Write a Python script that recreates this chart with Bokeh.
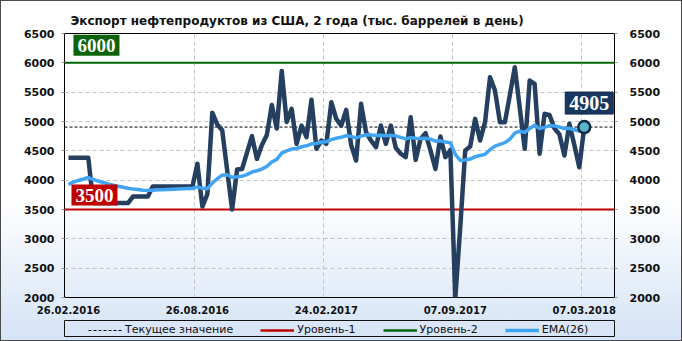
from bokeh.plotting import figure
from bokeh.layouts import column
from bokeh.models import (Range1d, LinearAxis, FixedTicker, Label, Legend, LegendItem,
                          InlineStyleSheet)
from bokeh.embed import file_html
from bokeh.resources import INLINE

title_text = "Экспорт нефтепродуктов из США, 2 года (тыс. баррелей в день)"
tick_dates = ["26.02.2016", "26.08.2016", "24.02.2017", "07.09.2017", "07.03.2018"]
tick_index = [0, 26, 52, 78, 104]
y_ticks = [2000, 2500, 3000, 3500, 4000, 4500, 5000, 5500, 6000, 6500]
legend_labels = ["Текущее значение", "Уровень-1", "Уровень-2", "EMA(26)"]

exports = [
    4380, 4380, 4380, 4380, 4380, 3610, 3610, 3610, 3610, 3610,
    3610, 3610, 3610, 3720, 3720, 3720, 3720, 3890, 3890, 3890,
    3890, 3890, 3890, 3890, 3890, 3890, 4280, 3550, 3760, 5150,
    4950, 4850, 4170, 3500, 4180, 4190, 4470, 4750, 4360, 4600,
    4770, 5280, 4880, 5860, 4990, 5216, 4619, 4931, 4732, 5370,
    4534, 4676, 4619, 5329, 5045, 4931, 5199, 4600, 4335, 5301,
    4817, 4676, 4562, 4931, 4619, 4931, 4550, 4450, 4392, 5073,
    4346, 4704, 4800, 4505, 4193, 4744, 4392, 4516, 2000, 3200,
    4505, 4573, 5045, 4676, 4988, 5755, 5528, 4988, 4988, 5450,
    5926, 5230, 4534, 5699, 5642, 4449, 5131, 5110, 4880, 4780,
    4420, 4960, 4600, 4221, 4905,
]
ema26 = [
    3930, 3965, 3995, 4020, 4045, 4013, 3985, 3960, 3935, 3915,
    3895, 3880, 3862, 3850, 3840, 3830, 3826, 3830, 3835, 3838,
    3842, 3846, 3850, 3853, 3856, 3858, 3885, 3862, 3855, 3950,
    4025, 4085, 4092, 4050, 4058, 4068, 4095, 4140, 4160, 4190,
    4235, 4310, 4355, 4460, 4500, 4530, 4540, 4570, 4585, 4620,
    4625, 4650, 4655, 4690, 4715, 4730, 4760, 4745, 4720, 4750,
    4775, 4770, 4760, 4765, 4755, 4765, 4755, 4730, 4705, 4725,
    4715, 4710, 4715, 4700, 4665, 4670, 4650, 4640, 4440, 4335,
    4345, 4360, 4400, 4420, 4440, 4520, 4580, 4610, 4640, 4700,
    4800, 4835, 4815, 4880, 4935, 4880, 4900, 4930, 4925, 4905,
    4880, 4885, 4860, 4835, 4860,
]
level1 = 3500
level2 = 6000
idx = list(range(len(exports)))
current = exports[-1]

X0, X1 = -0.8, 110.1

COL_CUR, COL_L1, COL_L2, COL_EMA, COL_DATA = "black", "#c00000", "#006400", "#3fa4f4", "#243f60"

css = InlineStyleSheet(css=""":host {
 background: linear-gradient(to bottom, #ffffff 0%, #ffffff 58%, #d5e3f6 100%);
 box-shadow: inset 0 0 0 1px #4a4a4a; }""")

p = figure(width=682, height=320, output_backend="svg", toolbar_location=None,
           x_range=Range1d(X0, X1), y_range=Range1d(2000, 6500),
           min_border_left=64, min_border_right=68, min_border_top=33, min_border_bottom=23,
           background_fill_alpha=0, border_fill_alpha=0)

p.title.text = title_text
p.title.text_font = "DejaVu Sans"
p.title.text_font_style = "bold"
p.title.text_font_size = "12px"
p.title.text_color = "#111111"
p.title.align = "left"
p.title.vertical_align = "middle"
p.title.offset = 6
p.title.standoff = 10

p.outline_line_color = "black"
p.outline_line_width = 1

# axes
p.xaxis.ticker = FixedTicker(ticks=tick_index)
p.xaxis.major_label_overrides = {t: d for t, d in zip(tick_index, tick_dates)}
p.xaxis.major_tick_line_color = None
p.xaxis.major_tick_out = 0
p.xaxis.major_tick_in = 0
p.xaxis.minor_tick_line_color = None
p.xaxis.axis_line_color = None
p.xaxis.major_label_standoff = 8
p.xaxis.major_label_text_font = "DejaVu Sans"
p.xaxis.major_label_text_font_style = "bold"
p.xaxis.major_label_text_font_size = "10px"
p.xaxis.major_label_text_color = "#111111"

ry = LinearAxis()
p.add_layout(ry, "right")
for ax in (p.yaxis[0], ry):
    ax.ticker = FixedTicker(ticks=y_ticks)
    ax.axis_line_color = None
    ax.major_tick_out = 3
    ax.major_tick_in = 0
    ax.major_tick_line_color = "#999999"
    ax.minor_tick_line_color = None
    ax.major_label_text_font = "DejaVu Sans"
    ax.major_label_text_font_style = "bold"
    ax.major_label_text_font_size = "11px"
    ax.major_label_text_color = "#111111"
p.yaxis[0].major_label_standoff = 7
ry.major_label_standoff = 12

p.xgrid.ticker = FixedTicker(ticks=[t - 0.6 for t in tick_index[1:]])
for g in (p.xgrid[0], p.ygrid[0]):
    g.grid_line_color = "#c4c4c4"
    g.grid_line_dash = "4 3"
    g.grid_line_width = 1
p.ygrid.ticker = FixedTicker(ticks=y_ticks)

# level lines
p.line([X0, X1], [current, current], line_color=COL_CUR, line_width=1, line_dash="3 2")
p.line([X0, X1], [level1, level1], line_color=COL_L1, line_width=2)
p.line([X0, X1], [level2, level2], line_color=COL_L2, line_width=2)

# data
p.line(idx, exports, line_color=COL_DATA, line_width=4.5, line_join="round")
p.line(idx, ema26, line_color=COL_EMA, line_width=3.5, line_join="round")
p.scatter([idx[-1]], [current], size=12, fill_color="#5cb6c9", line_color="#0e2848", line_width=2.5)

# value boxes
p.add_layout(Label(x=idx[0], y=level2, text=str(level2), x_offset=5, y_offset=7,
                   text_baseline="bottom", text_font="Liberation Serif", text_font_style="bold",
                   text_font_size="19px", text_color="white", background_fill_color="#0b640b",
                   padding=4))
p.add_layout(Label(x=idx[0], y=level1, text=str(level1), x_offset=3, y_offset=4,
                   text_baseline="bottom", text_font="Liberation Serif", text_font_style="bold",
                   text_font_size="19px", text_color="white", background_fill_color="#c00000",
                   padding=4))
p.add_layout(Label(x=idx[-1], y=current, text=str(current), x_offset=5, y_offset=13,
                   text_align="center", text_baseline="bottom", text_font="Liberation Serif",
                   text_font_style="bold", text_font_size="20px", text_color="white",
                   background_fill_color="#17375e", border_line_color="#0e2848", padding=4))

# legend strip (box = frame of a small figure); proxies sit outside its visible range
lg = figure(width=682, height=21, output_backend="svg", toolbar_location=None,
            x_range=Range1d(0, 1), y_range=Range1d(0, 1),
            min_border_left=64, min_border_right=65, min_border_top=0, min_border_bottom=5,
            background_fill_alpha=0, border_fill_alpha=0)
lg.axis.visible = False
lg.grid.visible = False
lg.outline_line_color = "#111111"
lg.outline_line_width = 1
px, py = [idx[-1]], [current]
proxies = [
    lg.line(px, py, line_color=COL_CUR, line_width=1, line_dash="3 2"),
    lg.line(px, py, line_color=COL_L1, line_width=2.5),
    lg.line(px, py, line_color=COL_L2, line_width=2.5),
    lg.line(px, py, line_color=COL_EMA, line_width=3.5),
]
legend = Legend(items=[LegendItem(label=t, renderers=[r]) for t, r in zip(legend_labels, proxies)],
                orientation="horizontal", location=(24, 0), padding=2, spacing=27,
                glyph_width=34, glyph_height=12, label_standoff=3,
                label_text_font="DejaVu Sans", label_text_font_size="11px",
                label_text_color="#111111", label_height=12,
                border_line_color=None, background_fill_alpha=0, margin=0)
lg.add_layout(legend, "center")

layout = column(p, lg, spacing=0, stylesheets=[css])
open("out.html", "w").write(file_html(layout, INLINE))
